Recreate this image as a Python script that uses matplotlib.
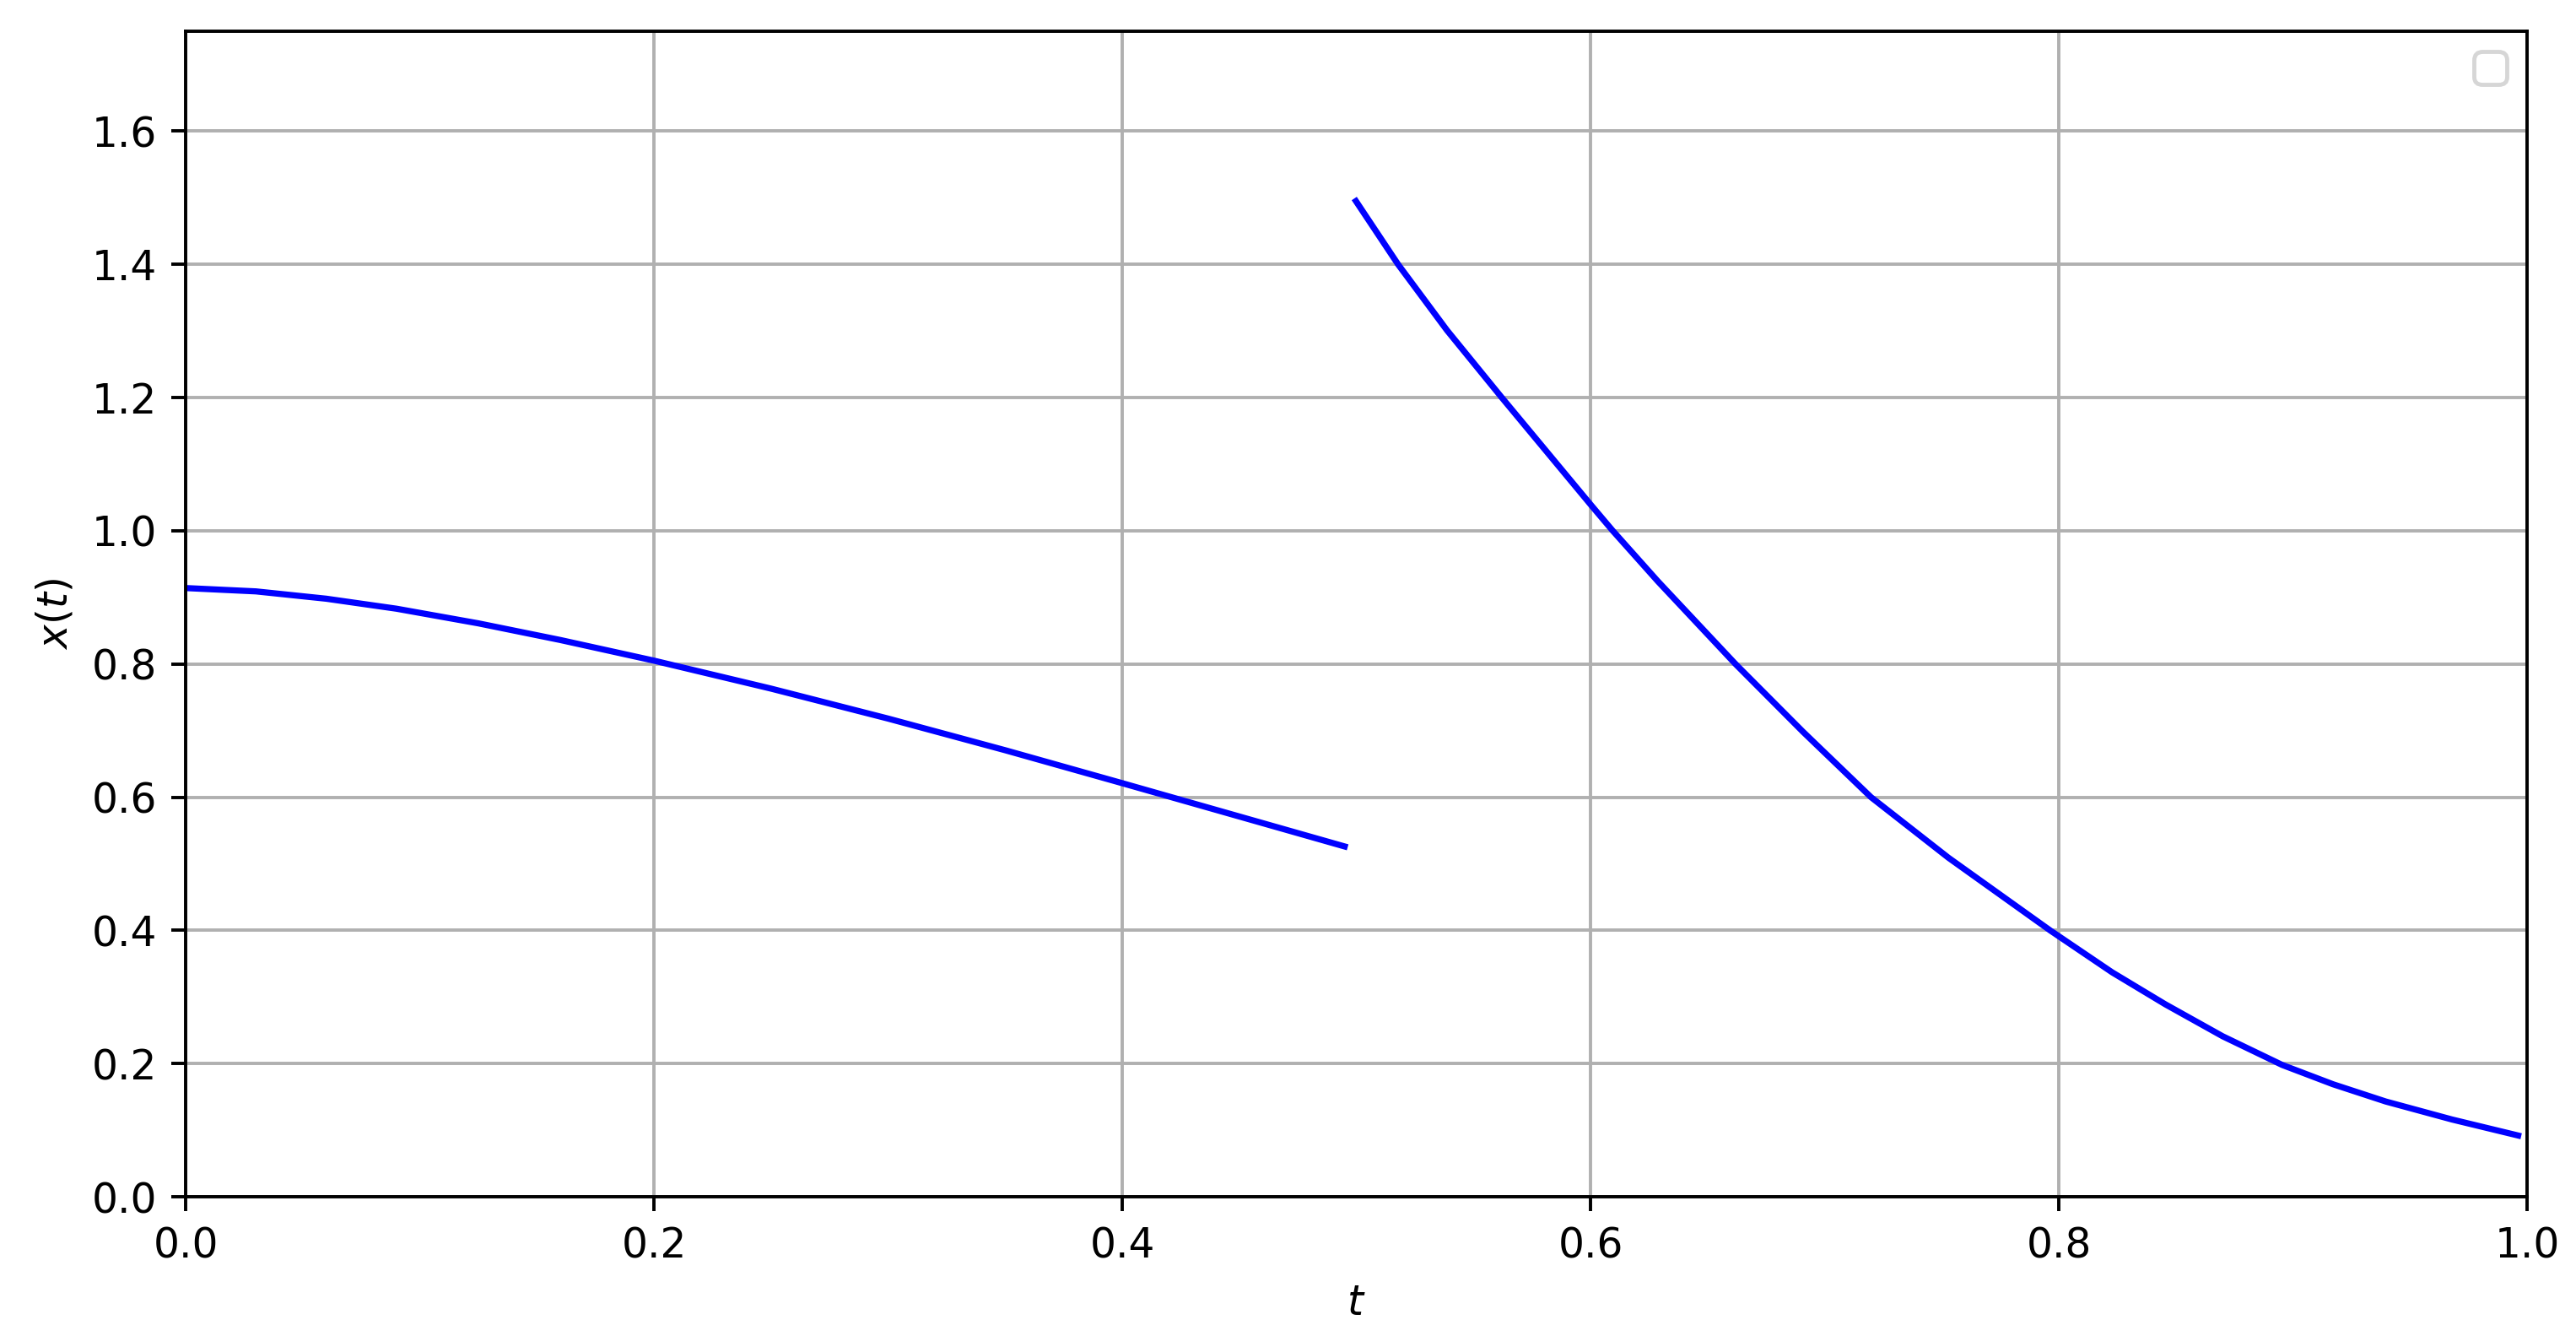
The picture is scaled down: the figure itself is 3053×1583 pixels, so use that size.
import numpy as np
import matplotlib.pyplot as plt

# values (two branches, jump at t = 0.5)
t_left = [0.0, 0.03, 0.06, 0.09, 0.125, 0.16, 0.2, 0.25, 0.3, 0.35, 0.4, 0.45, 0.495]
x_left = [0.914, 0.909, 0.898, 0.883, 0.861, 0.836, 0.805, 0.763, 0.718, 0.6705, 0.621, 0.571, 0.526]

t_right = [0.4998, 0.5178, 0.5387, 0.5621, 0.6006, 0.6095, 0.6288, 0.6619, 0.6908, 0.7198,
           0.7529, 0.7963, 0.8228, 0.8455, 0.8700, 0.8954, 0.9171, 0.9397, 0.9680, 0.9962]
x_right = [1.495, 1.400, 1.301, 1.200, 1.037, 1.000, 0.924, 0.800, 0.698, 0.600,
           0.509, 0.400, 0.337, 0.289, 0.241, 0.198, 0.169, 0.143, 0.116, 0.092]

DPI = 350
fig, ax = plt.subplots(figsize=(3053 / DPI, 1583 / DPI), dpi=DPI)
fig.subplots_adjust(left=0.0721, right=0.981, bottom=0.1042, top=0.9766)

ax.plot(t_left, x_left, color="blue")
ax.plot(t_right, x_right, color="blue")

ax.set_xlim(0, 1)
ax.set_ylim(0, 1.75)
ax.set_xlabel("$t$")
ax.set_ylabel("$x(t)$")
ax.grid(True)
ax.legend(handles=[], loc="upper right")

fig.savefig("out.png", dpi=DPI)
